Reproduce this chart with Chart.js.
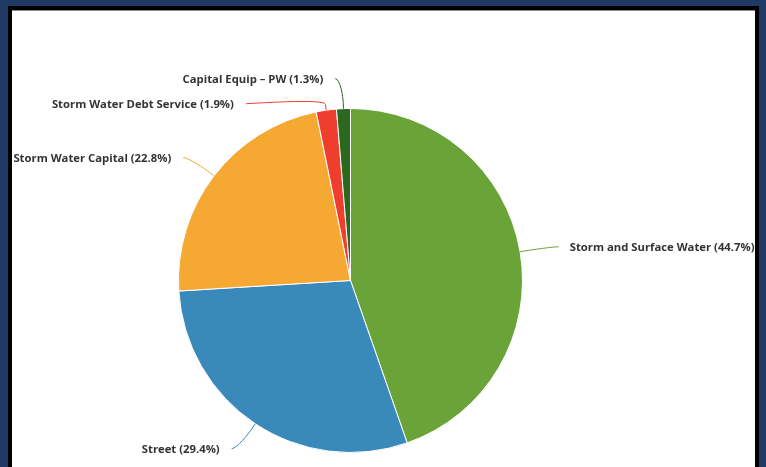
<!DOCTYPE html>
<html>
<head>
<meta charset="utf-8">
<script src="https://cdn.jsdelivr.net/npm/chart.js@4.4.1/dist/chart.umd.min.js"></script>
<style>
  html, body { margin: 0; padding: 0; }
  body { width: 766px; height: 467px; background: #1f3864; position: relative; overflow: hidden; }
  #frame { position: absolute; left: 8px; top: 6px; width: 751px; height: 470px; background: #000; }
  #inner { position: absolute; left: 4px; top: 4px; right: 4px; bottom: 0; background: #fff; border-top: 1px solid #8a8a8a; }
  #chart { position: absolute; left: 0; top: 0; }
</style>
</head>
<body>
<div id="frame"><div id="inner"></div></div>
<canvas id="chart" width="766" height="467"></canvas>
<script>
const categories = ["Storm and Surface Water", "Street", "Storm Water Capital", "Storm Water Debt Service", "Capital Equip \u2013 PW"];
const shares = [44.7, 29.4, 22.8, 1.9, 1.3];
const sliceColors = ["#6aa338", "#3a89bb", "#f5a832", "#ef3e2e", "#2a691e"];

// Highcharts-like outside labels with soft connectors
const sliceLabels = {
  id: "sliceLabels",
  afterDatasetsDraw(chart) {
    const ctx = chart.ctx;
    const meta = chart.getDatasetMeta(0);
    const dist = 30;
    const items = meta.data.map((arc, i) => {
      const mid = (arc.startAngle + arc.endAngle) / 2;
      const r = arc.outerRadius;
      return {
        i, mid, r, cx: arc.x, cy: arc.y,
        left: Math.cos(mid) < 0,
        y: arc.y + Math.sin(mid) * (r + dist)
      };
    });

    // keep labels on the same side from overlapping
    [true, false].forEach((side) => {
      const group = items.filter((it) => it.left === side).sort((a, b) => a.y - b.y);
      for (let k = 1; k < group.length; k++) {
        if (group[k].y - group[k - 1].y < 25) group[k].y = group[k - 1].y + 25;
      }
    });

    ctx.save();
    ctx.font = "bold 11.3px 'Open Sans', sans-serif";
    ctx.textBaseline = "middle";
    items.forEach((it) => {
      const R = it.r + dist;
      const s = it.left ? -1 : 1;
      const dy = Math.max(-1, Math.min(1, (it.y - it.cy) / R));
      const gx = it.cx + s * Math.cos(Math.asin(dy)) * R;
      const ax = gx + s * (it.left ? 7 : 9);
      const tx = it.cx + Math.cos(it.mid) * it.r;
      const ty = it.cy + Math.sin(it.mid) * it.r;
      const bx = it.cx + Math.cos(it.mid) * (it.r + 6);
      const by = it.cy + Math.sin(it.mid) * (it.r + 6);

      ctx.strokeStyle = sliceColors[it.i];
      ctx.lineWidth = 1;
      ctx.beginPath();
      ctx.moveTo(ax, it.y);
      ctx.bezierCurveTo(ax - s * 5, it.y, 2 * bx - tx, 2 * by - ty, bx, by);
      ctx.lineTo(tx, ty);
      ctx.stroke();

      ctx.fillStyle = "#333333";
      ctx.textAlign = it.left ? "right" : "left";
      ctx.fillText(categories[it.i] + " (" + shares[it.i] + "%)", ax + s * (it.left ? 12 : 11), it.y + 1.5);
    });
    ctx.restore();
  }
};

new Chart(document.getElementById("chart"), {
  type: "pie",
  data: {
    labels: categories,
    datasets: [{
      data: shares,
      backgroundColor: sliceColors,
      borderColor: "#ffffff",
      borderWidth: 1,
      hoverOffset: 0
    }]
  },
  options: {
    responsive: false,
    animation: false,
    layout: { padding: { left: 178, right: 243, top: 108, bottom: 14 } },
    plugins: {
      legend: { display: false },
      tooltip: { enabled: false }
    }
  },
  plugins: [sliceLabels]
});
</script>
</body>
</html>
